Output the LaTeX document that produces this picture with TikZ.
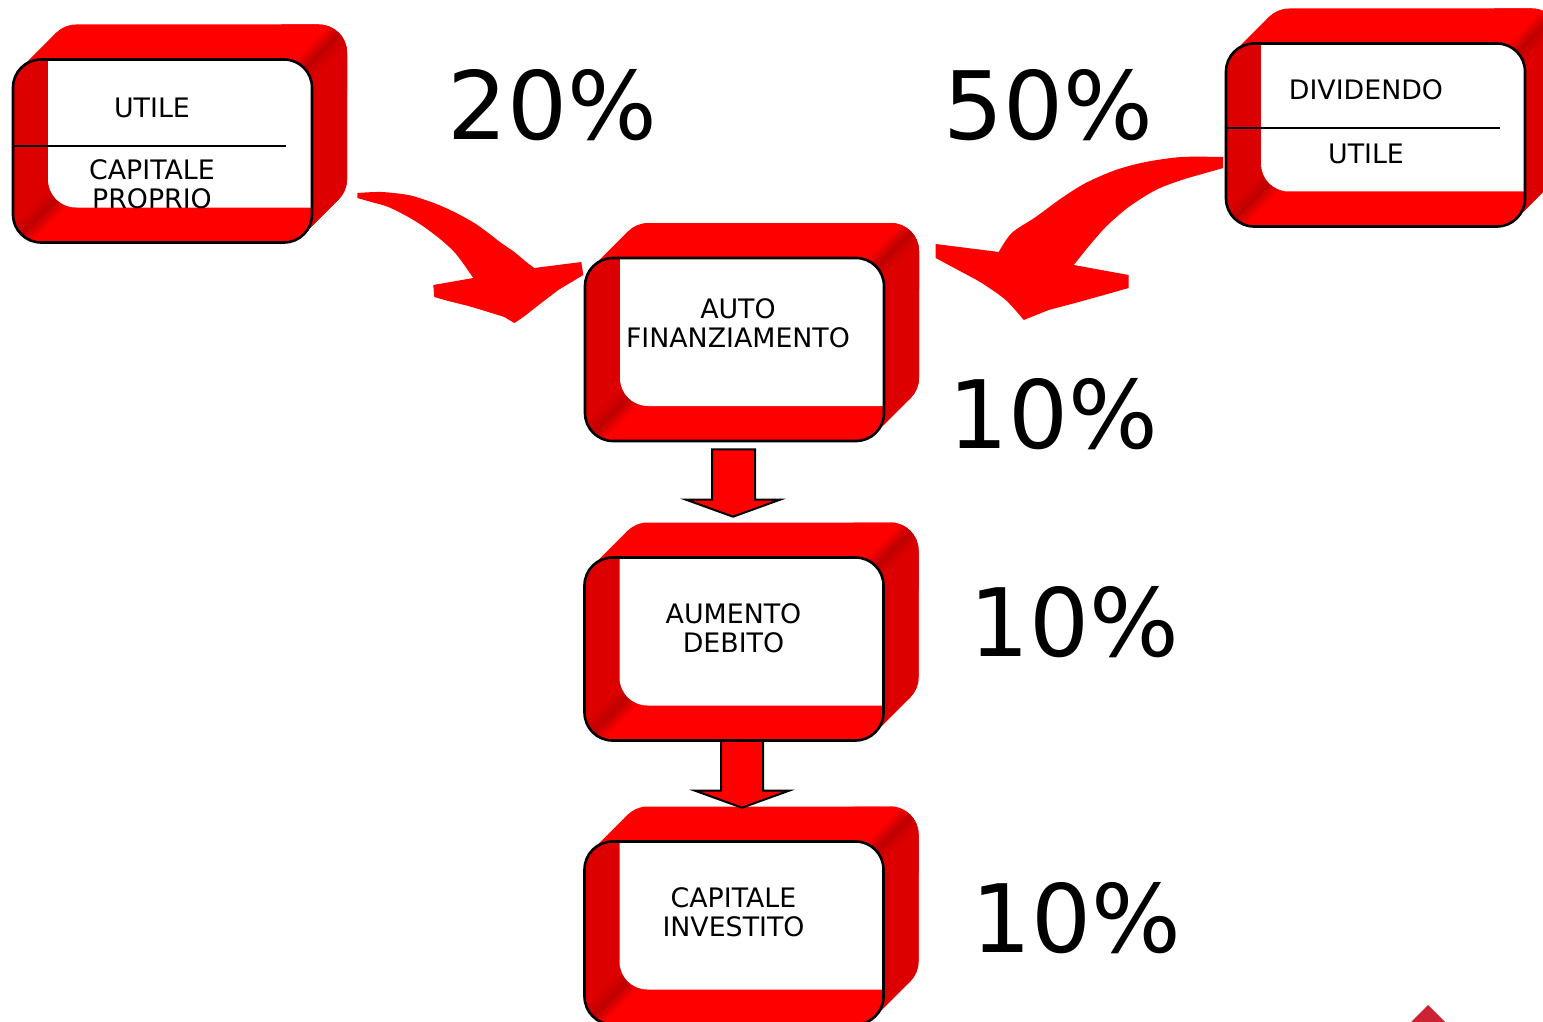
\documentclass[tikz,border=0pt]{standalone}
\usepackage{fontspec}
\setmainfont{DejaVu Sans}
\usetikzlibrary{calc}

\definecolor{frbright}{HTML}{FF0000}
\definecolor{frdark}{HTML}{DC0000}
\definecolor{frstreak}{HTML}{BE0000}
\definecolor{navred}{HTML}{CC2233}

\pgfdeclarehorizontalshading{frameseam}{100bp}{color(0bp)=(frbright); color(42bp)=(frbright);
  color(50bp)=(frstreak); color(58bp)=(frdark); color(100bp)=(frdark)}

% hollow red frame seen in perspective; #1 name, #2/#3 centre of the front face
\newcommand{\redframe}[3]{%
  \pgfmathsetmacro{\xa}{#2-\fw/2}
  \pgfmathsetmacro{\xb}{#2+\fw/2}
  \pgfmathsetmacro{\ya}{#3-\fh/2}
  \pgfmathsetmacro{\yb}{#3+\fh/2}
  \pgfmathsetmacro{\rk}{\fr*(1-0.7071)}
  % hull: front, back and the diagonal flanks
  \fill[frbright,rounded corners=\frpt] (\xa,\ya) rectangle (\xb,\yb);
  \fill[frbright,rounded corners=\frpt] (\xa+\fd,\ya-\fd) rectangle (\xb+\fd,\yb-\fd);
  \fill[frbright] (\xa+\rk,\ya+\rk) -- ++(\fd,-\fd) -- (\xb-\rk+\fd,\yb-\rk-\fd) -- (\xb-\rk,\yb-\rk) -- cycle;
  % right outer wall
  \begin{scope}
    \clip[rounded corners=\frpt] (\xa+\fd,\ya-\fd) rectangle (\xb+\fd,\yb-\fd);
    \fill[frdark] (\xb-\rk-400,\ya+\rk+400) -- (\xb-\rk+400,\ya+\rk-400) -- (\xb-\rk+800,\ya+\rk+800) -- cycle;
    \shade[shading=frameseam,shading angle=-45] (\xb-\rk+17.5-40,\ya+\rk-17.5-40) rectangle ++(80,80);
  \end{scope}
  \begin{scope}
    \clip (\xa+\rk,\ya+\rk) -- ++(\fd,-\fd) -- (\xb-\rk+\fd,\yb-\rk-\fd) -- (\xb-\rk,\yb-\rk) -- cycle;
    \fill[frdark] (\xb-\rk-400,\ya+\rk+400) -- (\xb-\rk+400,\ya+\rk-400) -- (\xb-\rk+800,\ya+\rk+800) -- cycle;
  \end{scope}
  % front face and left inner wall
  \fill[frbright,rounded corners=\frpt] (\xa,\ya) rectangle (\xb,\yb);
  \begin{scope}
    \clip[rounded corners=\frpt] (\xa,\ya) rectangle (\xb,\yb);
    \fill[frdark] (\xa+\rk-400,\yb-\rk+400) -- (\xa+\rk+400,\yb-\rk-400) -- (\xa+\rk-800,\yb-\rk-800) -- cycle;
    \shade[shading=frameseam,shading angle=135] (\xa+\rk+17.5-40,\yb-\rk-17.5-40) rectangle ++(80,80);
    \fill[white,rounded corners=\frpt] (\xa+\fd,\ya-\fd) rectangle (\xb+\fd,\yb-\fd); % opening
  \end{scope}
  \node[frontface] (#1) at (#2,#3) {};
}

\begin{document}
\begin{tikzpicture}[
    x=0.5pt, y=-0.5pt,
    frontface/.style={draw=black, line width=1.3pt, rounded corners=14pt,
      minimum width=149.5pt, minimum height=91.5pt, inner sep=0pt},
    lbl/.style={font=\fontsize{13.4}{14.75}\selectfont, align=center, inner sep=0pt},
    pct/.style={font=\fontsize{47.2}{50}\selectfont, inner sep=0pt, anchor=base west},
    divider/.style={line width=1.4pt},
    blockarrow/.style={fill=frbright, draw=black, line width=1pt, line join=miter},
    bentarrow/.style={fill=frbright},
  ]

  % ---- geometry (pixels) ---------------------------------------------
  \def\fw{299}     % front face width
  \def\fh{183}     % front face height
  \def\fd{35}      % depth offset, up and right
  \def\fr{28}      % corner radius
  \def\frpt{14pt}

  \useasboundingbox (0,0) rectangle (1543,1022);

  % ---- frames --------------------------------------------------------
  \redframe{utcp}{162.5}{151}
  \redframe{divut}{1375.5}{135}
  \redframe{autofin}{734.5}{349.5}
  \redframe{aumdeb}{734}{649}
  \redframe{capinv}{734}{933}

  % ratios drawn inside the top frames
  \draw[divider] ([yshift=2.5pt]utcp.west) -- ++(274,0);
  \draw[divider] ([yshift=3.5pt]divut.west) -- ++(275,0);

  % ---- labels --------------------------------------------------------
  \node[lbl,anchor=base] (utl) at (152,118) {UTILE};
  \node[lbl] (cpl) at (152,184) {CAPITALE\\PROPRIO};
  \node[lbl,anchor=base] (dvl) at (1366,100) {DIVIDENDO};
  \node[lbl,anchor=base] (utr) at (1366,163) {UTILE};
  \node[lbl] (afl) at (738,323) {AUTO\\FINANZIAMENTO};
  \node[lbl] (adl) at (733.5,628) {AUMENTO\\DEBITO};
  \node[lbl] (cil) at (733.5,912) {CAPITALE\\INVESTITO};

  % ---- percentages ---------------------------------------------------
  \node[pct] (p20) at (447.5,140) {20\%};
  \node[pct] (p50) at (943,140) {50\%};
  \node[pct] (p10a) at (948,448) {10\%};
  \node[pct] (p10b) at (969,656) {10\%};
  \node[pct] (p10c) at (971,952) {10\%};

  % ---- bent arrows into the self-financing frame ---------------------
  \begin{scope}[shift={(utcp.east)}]
    \fill[bentarrow] plot[smooth] coordinates {(44,42) (68,41) (95,44) (115,50) (128,55) (143,62)
        (161,72) (175,82) (188,92) (201,101) (213,111) (221,117)}
      -- (268,111) -- (270,124)
      -- plot[smooth] coordinates {(245,139) (228,152) (210,166) (201,172)}
      -- plot[smooth] coordinates {(191,166) (175,161) (155,155) (135,150) (121,146)}
      -- (120,134) -- (160,127)
      -- plot[smooth] coordinates {(151,114) (141,101) (128,89) (111,76) (95,66) (75,56) (58,51) (44,47)}
      -- cycle;
  \end{scope}
  \begin{scope}[shift={(divut.west)}]
    \fill[bentarrow] plot[smooth] coordinates {(-1.5,22) (-43,22) (-79,27) (-109,35) (-139,48)
        (-163,63) (-189,82) (-213,98) (-226,117)}
      -- (-289,109) -- (-289,123)
      -- plot[smooth] coordinates {(-263,137) (-243,148) (-219,165) (-201,185)}
      -- plot[smooth] coordinates {(-176,175) (-146,167) (-96,153)}
      -- (-96,140) -- (-151,130)
      -- plot[smooth] coordinates {(-139,115) (-119,92) (-96,72) (-69,55) (-43,45) (-19,38) (-1.5,33)}
      -- cycle;
  \end{scope}

  % ---- block arrows down the chain -----------------------------------
  \draw[blockarrow] ($(autofin.south)+(-22.5,7)$) -- ($(autofin.south)+(20.5,7)$)
    -- ($(aumdeb.north)+(21,-56.5)$) -- ($(aumdeb.north)+(46,-56.5)$)
    -- ($(aumdeb.north)+(-1,-39.5)$) -- ($(aumdeb.north)+(-48,-56.5)$)
    -- ($(aumdeb.north)+(-22,-56.5)$) -- cycle;
  \draw[blockarrow] ($(aumdeb.south)+(-13,-1)$) -- ($(aumdeb.south)+(29,-1)$)
    -- ($(capinv.north)+(29,-49.5)$) -- ($(capinv.north)+(55,-49.5)$)
    -- ($(capinv.north)+(8,-32.5)$) -- ($(capinv.north)+(-39,-49.5)$)
    -- ($(capinv.north)+(-13,-49.5)$) -- cycle;

  % corner mark
  \fill[navred] (1428,1005) -- (1445,1022) -- (1411,1022) -- cycle;

\end{tikzpicture}
\end{document}
